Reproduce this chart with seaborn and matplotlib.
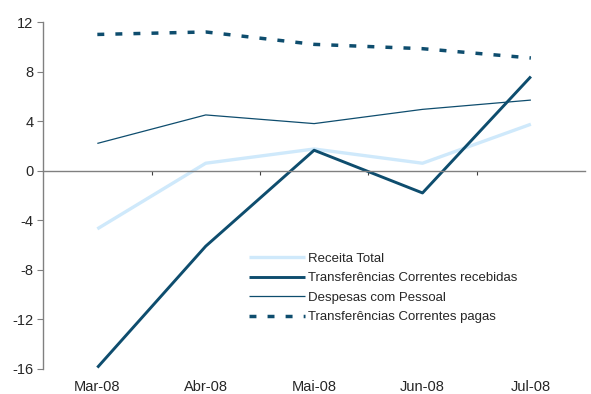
import matplotlib
matplotlib.use("Agg")
import matplotlib.pyplot as plt
import seaborn as sns
import pandas as pd

months = ["Mar-08", "Abr-08", "Mai-08", "Jun-08", "Jul-08"]
receita_total = [-4.7, 0.6, 1.75, 0.6, 3.75]
transf_recebidas = [-15.9, -6.1, 1.65, -1.8, 7.6]
despesas_pessoal = [2.2, 4.5, 3.8, 4.95, 5.7]
transf_pagas = [11.0, 11.2, 10.2, 9.85, 9.1]
yticks = [-16, -12, -8, -4, 0, 4, 8, 12]

sns.set_theme(style="white")
plt.rcParams['font.family'] = ['Liberation Sans', 'DejaVu Sans']

dark = "#0E4D6E"
light = "#CFE9FB"

fig = plt.figure(figsize=(5.91, 3.94), dpi=100)
ax = fig.add_axes([0.073, 0.064, 0.917, 0.880])

x = list(range(len(months)))
series = [
    ("Receita Total", receita_total, light, 2.4, None),
    ("Transferências Correntes recebidas", transf_recebidas, dark, 2.1, None),
    ("Despesas com Pessoal", despesas_pessoal, dark, 0.9, None),
    ("Transferências Correntes pagas", transf_pagas, dark, 2.5, (2.0, 3.2)),
]
for name, vals, col, lw, dash in series:
    df = pd.DataFrame({"x": x, "y": vals})
    sns.lineplot(data=df, x="x", y="y", ax=ax, color=col, linewidth=lw, label=name)
    line = ax.get_lines()[-1]
    if dash is not None:
        line.set_dashes(dash)
    line.set_solid_capstyle("butt")
    line.set_dash_capstyle("butt")

ax.set_xlim(-0.5, len(months) - 0.5)
ax.set_ylim(-16, 12)
ax.set_yticks(yticks)
ax.set_yticklabels([str(v) for v in yticks], fontsize=10.5)
ax.set_xlabel("")
ax.set_ylabel("")

for s in ["top", "right"]:
    ax.spines[s].set_visible(False)
ax.spines["left"].set_color("#808080")
ax.spines["bottom"].set_color("#808080")
ax.spines["bottom"].set_position(("data", 0))
ax.spines["left"].set_linewidth(1.0)
ax.spines["bottom"].set_linewidth(1.0)

ax.set_xticks([i + 0.5 for i in range(len(months) - 1)])
ax.set_xticklabels([])
ax.tick_params(axis="x", direction="out", length=3, color="#404040", width=0.8, bottom=True)
ax.tick_params(axis="y", direction="out", length=4, color="#808080", width=0.8, left=True, pad=3)

sec = ax.secondary_xaxis("bottom")
sec.set_xticks(x)
sec.set_xticklabels(months, fontsize=10.5)
sec.tick_params(length=0, pad=8)
sec.spines["bottom"].set_visible(False)

leg = ax.legend(loc="upper left", bbox_to_anchor=(0.379, 0.335), frameon=False,
                fontsize=9.5, handlelength=4.3, handletextpad=0.2, labelspacing=0.55,
                borderaxespad=0, borderpad=0)

fig.savefig("out.png", dpi=100)
